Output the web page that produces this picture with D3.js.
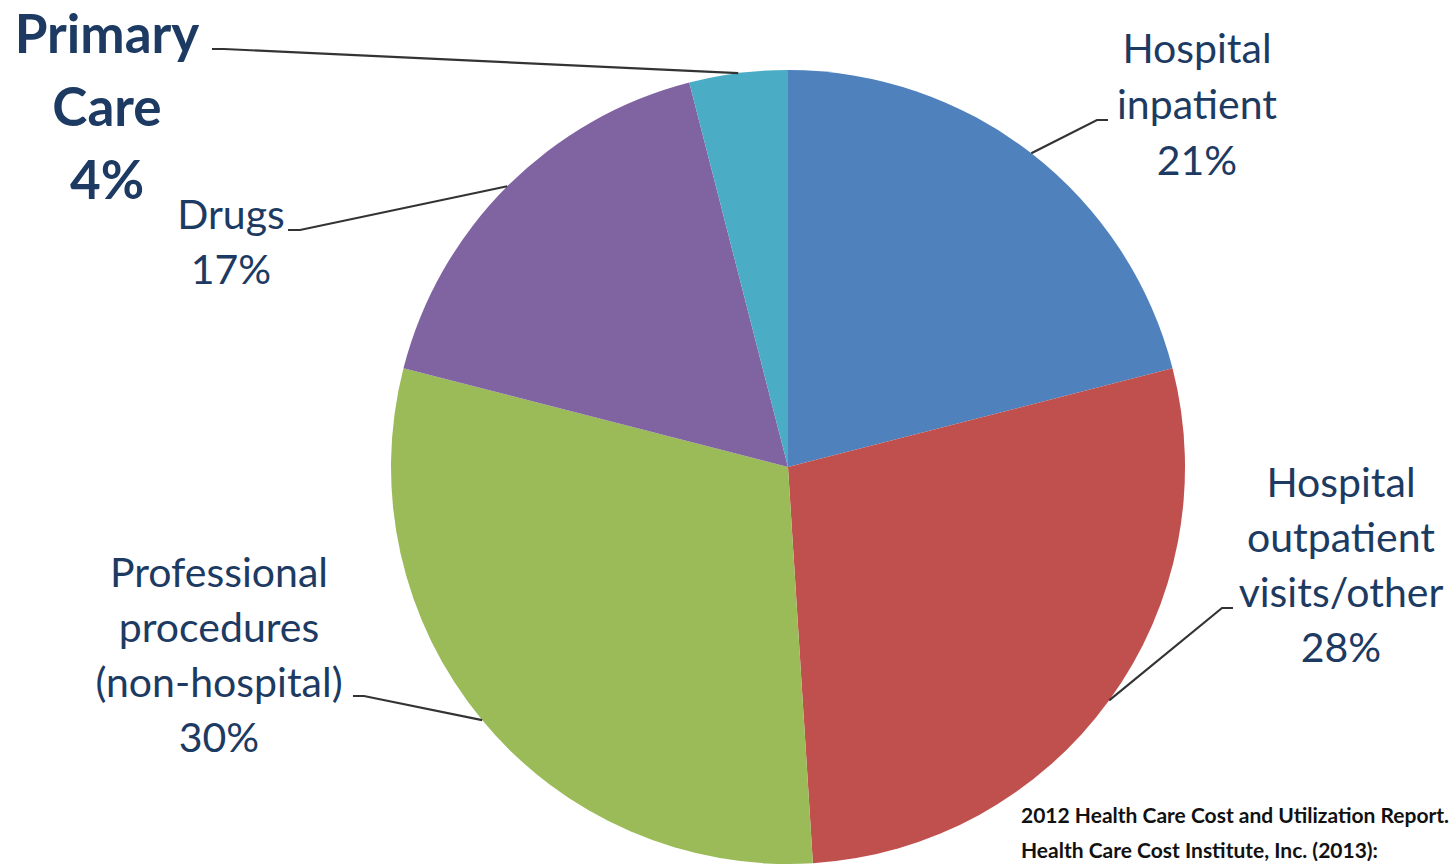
<!DOCTYPE html>
<html>
<head>
	<meta charset="utf-8">
	<title>health care spending pie</title>
	<script src="https://cdn.jsdelivr.net/npm/d3@7/dist/d3.min.js"></script>
	<style>
		html, body { margin: 0; padding: 0; background: #fff; overflow: hidden; }
		svg { display: block; }
		.lbl { fill: #1d3a62; font-family: Lato, "Open Sans", sans-serif; }
		.src { fill: #111; font-family: Lato, sans-serif; font-weight: bold; font-size: 21px; }
		.leader { fill: none; stroke: #333; stroke-width: 2.2px; }
	</style>
</head>
<body>
<svg width="1456" height="865"></svg>
<script>
	// data, clockwise from 12 o'clock
	var categories = ["Hospital inpatient", "Hospital outpatient visits/other", "Professional procedures (non-hospital)", "Drugs", "Primary Care"];
	var shares = [21, 28, 30, 17, 4];
	var labelLines = [
		["Hospital", "inpatient", "21%"],
		["Hospital", "outpatient", "visits/other", "28%"],
		["Professional", "procedures", "(non-hospital)", "30%"],
		["Drugs", "17%"],
		["Primary", "Care", "4%"]
	];
	var colors = ["#4f81bd", "#c0504d", "#9bbb59", "#8064a2", "#4bacc6"];
	var sourceLines = ["2012 Health Care Cost and Utilization Report.", "Health Care Cost Institute, Inc. (2013):"];

	// label layout: text centre x, first baseline y, line step, size, weight, leader start + elbow
	var layout = [
		{x: 1197, y: 63,  step: 56, size: 41, weight: "normal", p0: [1108, 120], p1: [1097, 120]},
		{x: 1341, y: 497, step: 55, size: 41, weight: "normal", p0: [1233, 608], p1: [1222, 608]},
		{x: 219,  y: 587, step: 55, size: 41, weight: "normal", p0: [353, 696],  p1: [364, 696]},
		{x: 231,  y: 229, step: 55, size: 41, weight: "normal", p0: [288, 230],  p1: [300, 230]},
		{x: 107,  y: 53,  step: 73, size: 53, weight: "bold",   p0: [212, 49],   p1: [224, 49]}
	];

	var svg = d3.select("svg"),
		cx = 788, cy = 467, radius = 397;

	var pie = d3.pie().sort(null).value(function (d) { return d; });
	var arcs = pie(shares);
	var arc = d3.arc().innerRadius(0).outerRadius(radius);
	var edge = d3.arc().innerRadius(radius).outerRadius(radius);

	var g = svg.append("g").attr("transform", "translate(" + cx + "," + cy + ")");
	g.selectAll("path.slice").data(arcs).enter().append("path")
		.attr("class", "slice")
		.attr("fill", function (d, i) { return colors[i]; })
		.attr("d", arc);

	// leader lines: from label to the mid point of the slice edge
	arcs.forEach(function (d, i) {
		var L = layout[i];
		var c = edge.centroid(d);
		svg.append("path").attr("class", "leader")
			.attr("d", d3.line()([L.p0, L.p1, [c[0] + cx, c[1] + cy]]));
	});

	// labels
	labelLines.forEach(function (lines, i) {
		var L = layout[i];
		var t = svg.append("text").attr("class", "lbl")
			.attr("text-anchor", "middle")
			.attr("font-size", L.size)
			.attr("font-weight", L.weight);
		lines.forEach(function (s, k) {
			t.append("tspan").attr("x", L.x).attr("y", L.y + k * L.step).text(s);
		});
	});

	// source note
	sourceLines.forEach(function (s, k) {
		svg.append("text").attr("class", "src")
			.attr("x", 1021).attr("y", 823 + k * 35).text(s);
	});
</script>
</body>
</html>
